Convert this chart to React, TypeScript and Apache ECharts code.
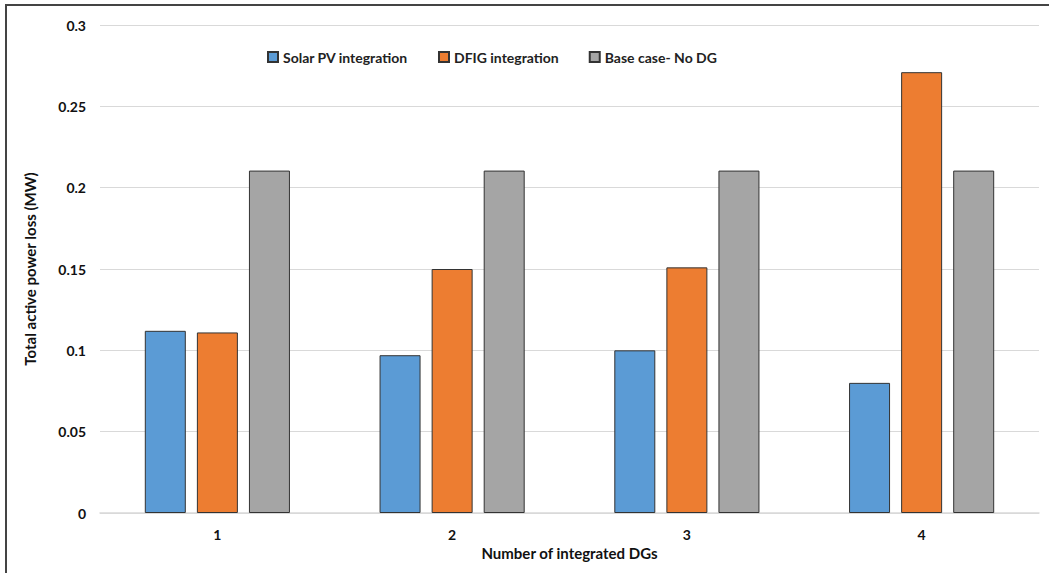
import React, { useEffect, useRef } from "react";
import * as echarts from "echarts";

const categories = ["1", "2", "3", "4"];
const solarPV = [0.112, 0.097, 0.1, 0.08];
const dfig = [0.111, 0.15, 0.151, 0.271];
const baseCase = [0.2105, 0.2105, 0.2105, 0.2105];
const seriesNames = ["Solar PV integration", "DFIG integration", "Base case- No DG"];
const colors = ["#5B9BD5", "#ED7D31", "#A5A5A5"];

const FONT = "Lato";

export default function App() {
  const ref = useRef<HTMLDivElement>(null);
  useEffect(() => {
    const chart = echarts.init(ref.current!, null, { renderer: "svg" });
    const dataSets = [solarPV, dfig, baseCase];
    chart.setOption({
      animation: false,
      backgroundColor: "#fff",
      graphic: [
        {
          type: "rect",
          shape: { x: 6, y: 5, width: 1100, height: 700 },
          style: { fill: "none", stroke: "#444", lineWidth: 2 },
          silent: true,
        },
      ],
      legend: {
        top: 45,
        left: 262,
        itemWidth: 10,
        itemHeight: 10,
        itemGap: 30,
        icon: "rect",
        textStyle: { fontFamily: FONT, fontWeight: "bold", fontSize: 14, color: "#222" },
        data: seriesNames,
      },
      grid: { left: 100, right: 10, top: 25, bottom: 60 },
      xAxis: {
        type: "category",
        data: categories,
        name: "Number of integrated DGs",
        nameLocation: "middle",
        nameGap: 32,
        nameTextStyle: { fontFamily: FONT, fontWeight: "bold", fontSize: 15, color: "#111" },
        axisLine: { lineStyle: { color: "#d9d9d9", width: 1.5 } },
        axisTick: { show: false },
        axisLabel: { fontFamily: FONT, fontWeight: "bold", fontSize: 14, color: "#111", margin: 14 },
      },
      yAxis: {
        type: "value",
        min: 0,
        max: 0.3,
        interval: 0.05,
        name: "Total active power loss (MW)",
        nameLocation: "middle",
        nameRotate: 90,
        nameGap: 63,
        nameTextStyle: { fontFamily: FONT, fontWeight: "bold", fontSize: 15, color: "#111" },
        axisLine: { show: false },
        axisTick: { show: false },
        splitLine: { lineStyle: { color: "#d9d9d9", width: 1 } },
        axisLabel: {
          fontFamily: FONT,
          fontWeight: "bold",
          fontSize: 14,
          color: "#111",
          margin: 14,
          formatter: (v: number) => String(parseFloat(v.toFixed(2))),
        },
      },
      series: seriesNames.map((name, i) => ({
        name,
        type: "bar",
        data: dataSets[i],
        barWidth: 41,
        barGap: "27%",
        itemStyle: { color: colors[i], borderColor: "#333", borderWidth: 1 },
      })),
    });
    return () => chart.dispose();
  }, []);
  return (
    <div
      ref={ref}
      style={{ position: "absolute", left: 0, top: 0, width: 1049, height: 573 }}
    />
  );
}
